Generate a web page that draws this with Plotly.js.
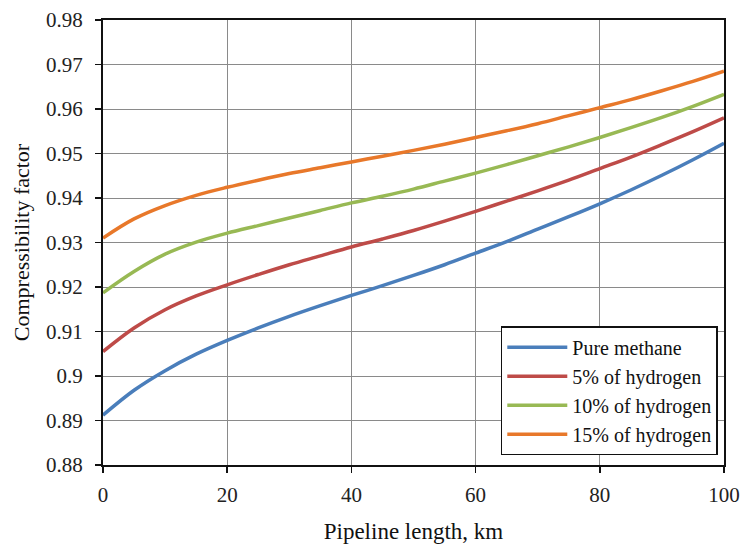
<!DOCTYPE html>
<html>
<head>
<meta charset="utf-8">
<script src="https://cdn.plot.ly/plotly-3.0.1.min.js"></script>
<style>html,body{margin:0;padding:0;background:#fff;}#chart{width:741px;height:544px;}</style>
</head>
<body>
<div id="chart"></div>
<script>
const xKm = [0, 5, 10, 15, 20, 25, 30, 35, 40, 45, 50, 55, 60, 65, 70, 75, 80, 85, 90, 95, 100];
const pureMethane = [0.8912, 0.8968, 0.9012, 0.9049, 0.9080, 0.9108, 0.9134, 0.9158, 0.9181, 0.9203, 0.9226, 0.9250, 0.9276, 0.9302, 0.9330, 0.9358, 0.9387, 0.9418, 0.9451, 0.9486, 0.9523];
const hydrogen5  = [0.9055, 0.9108, 0.9149, 0.9180, 0.9205, 0.9228, 0.9250, 0.9270, 0.9290, 0.9308, 0.9327, 0.9348, 0.9370, 0.9393, 0.9416, 0.9440, 0.9466, 0.9492, 0.9520, 0.9549, 0.9580];
const hydrogen10 = [0.9187, 0.9235, 0.9274, 0.9301, 0.9321, 0.9338, 0.9355, 0.9372, 0.9389, 0.9404, 0.9420, 0.9438, 0.9456, 0.9475, 0.9495, 0.9515, 0.9536, 0.9558, 0.9581, 0.9606, 0.9633];
const hydrogen15 = [0.9310, 0.9353, 0.9383, 0.9406, 0.9424, 0.9440, 0.9455, 0.9468, 0.9481, 0.9494, 0.9507, 0.9521, 0.9536, 0.9551, 0.9567, 0.9585, 0.9603, 0.9621, 0.9641, 0.9662, 0.9685];
const seriesNames = ["Pure methane", "5% of hydrogen", "10% of hydrogen", "15% of hydrogen"];
const xTickVals = [0, 20, 40, 60, 80, 100];
const xTickText = ["0", "20", "40", "60", "80", "100"];
const yTickVals = [0.88, 0.89, 0.90, 0.91, 0.92, 0.93, 0.94, 0.95, 0.96, 0.97, 0.98];
const yTickText = ["0.88", "0.89", "0.9", "0.91", "0.92", "0.93", "0.94", "0.95", "0.96", "0.97", "0.98"];

const colors = ["#4A7EBB", "#BE4B48", "#98B954", "#E8782A"];
const ys = [pureMethane, hydrogen5, hydrogen10, hydrogen15];
const traces = ys.map((y, i) => ({
  x: xKm, y: y, name: seriesNames[i], type: "scatter", mode: "lines",
  line: {color: colors[i], width: 3.5, shape: "spline", smoothing: 1}
}));

const serif = "Liberation Serif";
const layout = {
  width: 741, height: 544,
  margin: {l: 103, r: 17, t: 20, b: 79},
  paper_bgcolor: "#fff", plot_bgcolor: "#fff",
  font: {family: serif, size: 20, color: "#222"},
  showlegend: true,
  legend: {
    x: 0.990, y: 0.022, xanchor: "right", yanchor: "bottom",
    bgcolor: "#fff", bordercolor: "#111", borderwidth: 1.5,
    font: {family: serif, size: 20, color: "#111"},
    tracegroupgap: 0, itemwidth: 60
  },
  xaxis: {
    range: [0, 100], tickvals: xTickVals, ticktext: xTickText,
    showgrid: true, gridcolor: "#8a8a8a", gridwidth: 1,
    showline: true, linecolor: "#111", linewidth: 2, mirror: true,
    ticks: "outside", ticklen: 6, tickcolor: "#111", tickwidth: 1.5,
    ticklabelstandoff: 4,
    zeroline: false, tickfont: {family: serif, size: 21, color: "#222"},
    title: {text: "Pipeline length, km", font: {family: serif, size: 23, color: "#111"}, standoff: 18}
  },
  yaxis: {
    range: [0.88, 0.98], tickvals: yTickVals, ticktext: yTickText,
    showgrid: true, gridcolor: "#8a8a8a", gridwidth: 1,
    showline: true, linecolor: "#111", linewidth: 2, mirror: true,
    ticks: "outside", ticklen: 6, tickcolor: "#111", tickwidth: 1.5,
    ticklabelstandoff: 8,
    zeroline: false, tickfont: {family: serif, size: 21, color: "#222"},
    title: {text: "Compressibility factor", font: {family: serif, size: 22, color: "#111"}, standoff: 10}
  }
};
Plotly.newPlot("chart", traces, layout, {staticPlot: true, displayModeBar: false});
</script>
</body>
</html>
